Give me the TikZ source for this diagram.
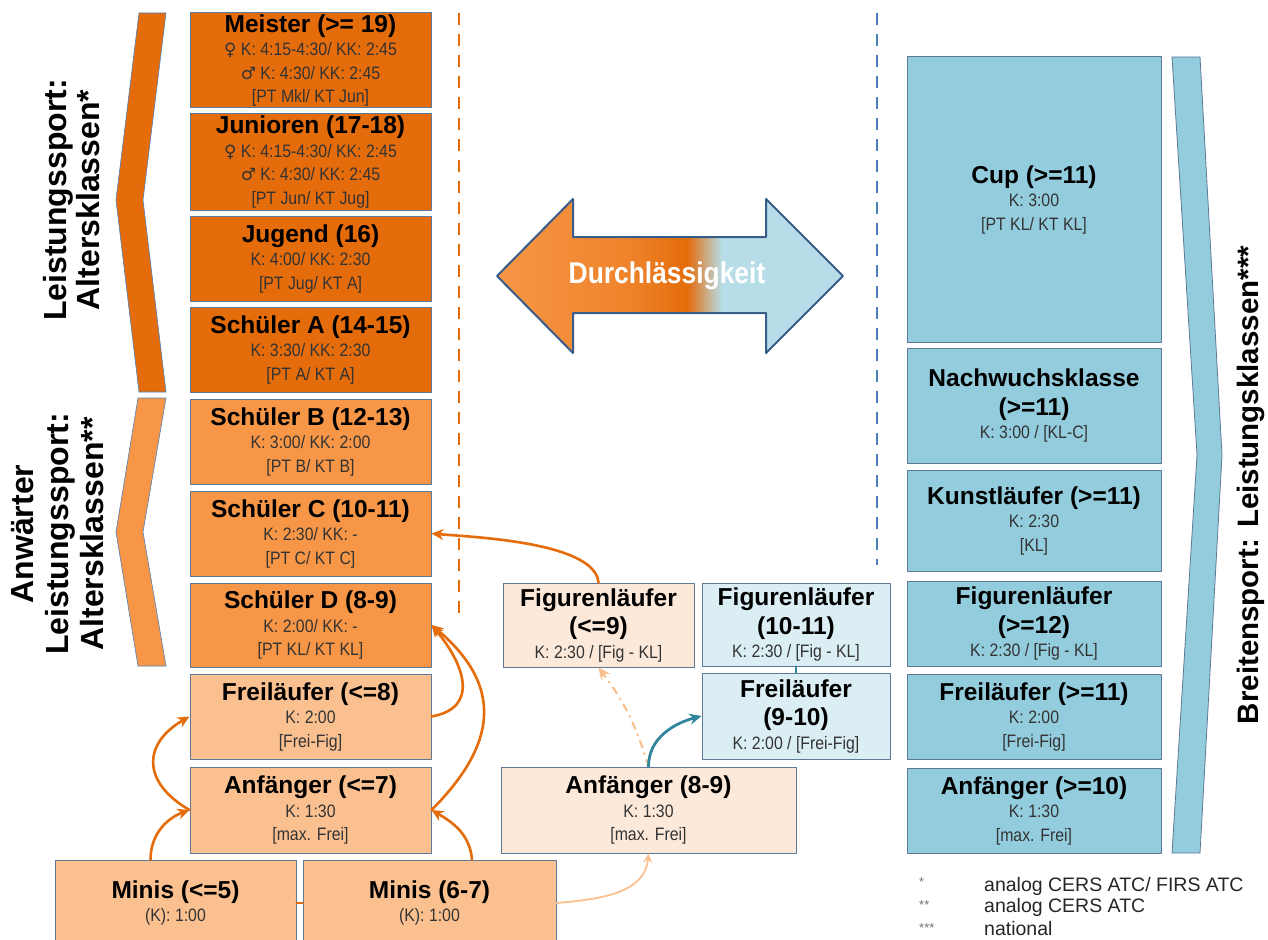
\documentclass[tikz,border=0pt]{standalone}
\usepackage{fontspec}
\setmainfont{Liberation Sans}
\newfontfamily\narrowfont[FakeStretch=0.88]{Liberation Sans}
\newfontfamily\symfont{DejaVu Sans}
\usetikzlibrary{arrows.meta}

\definecolor{orDark}{HTML}{E46C0A}
\definecolor{orMid}{HTML}{F79646}
\definecolor{orLight}{HTML}{FAC090}
\definecolor{orPale}{HTML}{FDE9D9}
\definecolor{blPale}{HTML}{DBEEF4}
\definecolor{blMid}{HTML}{93CDDD}
\definecolor{blArrow}{HTML}{B7DEE8}
\definecolor{boxline}{HTML}{5E7898}
\definecolor{chevline}{HTML}{4F81BD}
\definecolor{arrowline}{HTML}{385D8A}
\definecolor{tealArrow}{HTML}{31859C}
\definecolor{dashBlue}{HTML}{4A7EBB}
\colorlet{orMix}{orMid!55!orDark}

\pgfdeclarehorizontalshading{durchshade}{100bp}{color(0bp)=(orMid); color(25bp)=(orMid); color(44bp)=(orMix); color(52.5bp)=(orDark); color(57.5bp)=(blArrow); color(75bp)=(blArrow); color(100bp)=(blArrow)}

\newcommand{\sml}{\narrowfont\fontsize{18}{23.5}\selectfont}
\newcommand{\ttl}{\normalfont\bfseries\fontsize{24.5}{27}\selectfont\color{black}}
\newcommand{\fem}{{\symfont\fontsize{17}{20}\selectfont ♀}}
\newcommand{\mal}{{\symfont\fontsize{17}{20}\selectfont ♂}}

\begin{document}
\begin{tikzpicture}[line cap=round,line join=round,>={Stealth[length=12pt,width=11pt]},x=1pt,y=-1pt,
  box/.style={draw=boxline,line width=1pt,inner sep=0pt,align=center,text=black!80,font=\sml},
  lbox/.style={box,minimum width=241},
  rbox/.style={box,fill=blMid,minimum width=254},
  side/.style={align=center,inner sep=0pt,text=black,rotate=90},
  flow/.style={->,line width=2.6pt,draw=orDark},
  sep/.style={line width=2.8pt,line cap=butt,dash pattern=on 12pt off 9pt},
  note/.style={anchor=west,inner sep=0pt,font=\fontsize{19.5}{21}\selectfont,text=black!85},
  star/.style={anchor=west,inner sep=0pt,font=\fontsize{13}{14}\selectfont,text=black!55}]
\useasboundingbox (0,0) rectangle (1268,939);
\clip (0,0) rectangle (1268,939);
\fill[white] (0,0) rectangle (1268,939);

% Chevrons links und rechts
\filldraw[fill=orDark,draw=chevline,line width=0.6pt] (139,13) -- (166,13) -- (143,200) -- (166,392) -- (139,392) -- (116,200) -- cycle;
\filldraw[fill=orMid,draw=chevline,line width=0.6pt] (138,398) -- (166,398) -- (143,532) -- (166,666) -- (138,666) -- (116,532) -- cycle;
\filldraw[fill=blMid,draw=boxline,line width=0.8pt] (1172,57) -- (1200,57) -- (1222,455) -- (1200,853) -- (1172,853) -- (1197,455) -- cycle;

\node[side,font=\bfseries\fontsize{32}{33}\selectfont] (leistung) at (72,200) {Leistungssport:\\Altersklassen*};
\node[side,font=\bfseries\fontsize{32}{35}\selectfont] (anwaerter) at (58,534) {Anwärter\\Leistungssport:\\Altersklassen**};
\node[side,font=\bfseries\fontsize{29.5}{30}\selectfont] (breiten) at (1251,485) {Breitensport: Leistungsklassen***};

% Trennlinien
\draw[sep,orDark] (459,13) -- (459,615);
\draw[sep,dashBlue] (877,13) -- (877,565);

% Durchlaessigkeit
\shadedraw[shading=durchshade,draw=arrowline,line width=2pt] (497,276) -- (573,199) -- (573,237) -- (766,237) -- (766,199) -- (843,276) -- (766,353) -- (766,313) -- (573,313) -- (573,353) -- cycle;
\node[text=white,font=\narrowfont\bfseries\fontsize{30}{32}\selectfont] (durch) at (667,276) {Durchlässigkeit};

% Leistungssport
\node[lbox,fill=orDark,minimum height=95] (meister) at (310.5,60.5) {\ttl Meister (>= 19)\\\fem{} K: 4:15-4:30/ KK: 2:45\\\mal{} K: 4:30/ KK: 2:45\\{}[PT Mkl/ KT Jun]};
\node[lbox,fill=orDark,minimum height=96] (junioren) at (310.5,162) {\ttl Junioren (17-18)\\\fem{} K: 4:15-4:30/ KK: 2:45\\\mal{} K: 4:30/ KK: 2:45\\{}[PT Jun/ KT Jug]};
\node[lbox,fill=orDark,minimum height=85] (jugend) at (310.5,258.5) {\ttl Jugend (16)\\K: 4:00/ KK: 2:30\\{}[PT Jug/ KT A]};
\node[lbox,fill=orDark,minimum height=85] (schuelerA) at (310.5,349.5) {\ttl Schüler A (14-15)\\K: 3:30/ KK: 2:30\\{}[PT A/ KT A]};
\node[lbox,fill=orMid,minimum height=85] (schuelerB) at (310.5,441.5) {\ttl Schüler B (12-13)\\K: 3:00/ KK: 2:00\\{}[PT B/ KT B]};
\node[lbox,fill=orMid,minimum height=85] (schuelerC) at (310.5,533.5) {\ttl Schüler C (10-11)\\K: 2:30/ KK: -\\{}[PT C/ KT C]};
\node[lbox,fill=orMid,minimum height=84] (schuelerD) at (310.5,625) {\ttl Schüler D (8-9)\\K: 2:00/ KK: -\\{}[PT KL/ KT KL]};
\node[lbox,fill=orLight,minimum height=85] (frei8) at (310.5,716.5) {\ttl Freiläufer (<=8)\\K: 2:00\\{}[Frei-Fig]};
\node[lbox,fill=orLight,minimum height=86] (anf7) at (310.5,810) {\ttl Anfänger (<=7)\\K: 1:30\\{}[max. Frei]};
\node[box,fill=orLight,minimum width=241,minimum height=86] (minis5) at (175.5,903) {\ttl Minis (<=5)\\(K): 1:00};
\node[box,fill=orLight,minimum width=253,minimum height=86] (minis67) at (429.5,903) {\ttl Minis (6-7)\\(K): 1:00};

% Mitte
\node[box,fill=orPale,minimum width=191,minimum height=84] (figur9) at (598.5,625) {\ttl Figurenläufer\\[5pt]\ttl (<=9)\\K: 2:30 / [Fig - KL]};
\node[box,fill=blPale,minimum width=188,minimum height=83] (figur1011) at (796,624.5) {\ttl Figurenläufer\\[5pt]\ttl (10-11)\\K: 2:30 / [Fig - KL]};
\node[box,fill=blPale,minimum width=188,minimum height=86] (frei910) at (796,716) {\ttl Freiläufer\\[5pt]\ttl (9-10)\\K: 2:00 / [Frei-Fig]};
\node[box,fill=orPale,minimum width=295,minimum height=86] (anf89) at (648.5,810) {\ttl Anfänger (8-9)\\K: 1:30\\{}[max. Frei]};

% Breitensport
\node[rbox,minimum height=285] (cup) at (1034,199.5) {\ttl Cup (>=11)\\K: 3:00\\{}[PT KL/ KT KL]};
\node[rbox,minimum height=115] (nachwuchs) at (1034,405.5) {\ttl Nachwuchsklasse\\[5pt]\ttl (>=11)\\K: 3:00 / [KL-C]};
\node[rbox,minimum height=101] (kunst) at (1034,520.5) {\ttl Kunstläufer (>=11)\\K: 2:30\\{}[KL]};
\node[rbox,minimum height=85] (figur12) at (1034,623.5) {\ttl Figurenläufer\\[5pt]\ttl (>=12)\\K: 2:30 / [Fig - KL]};
\node[rbox,minimum height=85] (frei11) at (1034,716.5) {\ttl Freiläufer (>=11)\\K: 2:00\\{}[Frei-Fig]};
\node[rbox,minimum height=85] (anf10) at (1034,810.5) {\ttl Anfänger (>=10)\\K: 1:30\\{}[max. Frei]};

% Uebergaenge
\draw[line width=2.4pt,orDark] (minis5.east) -- (minis67.west);
\draw[flow] ([xshift=-25pt]minis5.north) to[out=90,in=200] (anf7.west);
\draw[flow] (anf7.west) to[out=150,in=210,looseness=1.5] (frei8.west);
\draw[flow] ([xshift=42.5pt]minis67.north) to[out=95,in=-30] (anf7.east);
\draw[flow] (anf7.east) to[out=45,in=-40,looseness=1.3] (schuelerD.east);
\draw[flow] (frei8.east) to[out=10,in=-50,looseness=1.4] (schuelerD.east);
\draw[flow] (figur9.north) to[out=95,in=-5,looseness=0.6] (schuelerC.east);
\draw[->,line width=1.8pt,draw=orLight,>={Stealth[length=9pt,width=9pt]}] (minis67.east) to[out=5,in=-95] (anf89.south);
\draw[->,line width=2.2pt,draw=orLight,dash pattern=on 7pt off 6pt on 1pt off 6pt] (anf89.north) to[bend right=10] (figur9.south);
\draw[->,line width=2.8pt,draw=tealArrow] (anf89.north) to[out=90,in=195] (frei910.west);
\draw[line width=2.4pt,draw=tealArrow] (frei910.north) -- (figur1011.south);

% Fussnoten
\node[star] (st1) at (919,882) {*};
\node[star] (st2) at (919,905) {**};
\node[star] (st3) at (919,928) {***};
\node[note] (fn1) at (984,886) {analog CERS ATC/ FIRS ATC};
\node[note] (fn2) at (984,907) {analog CERS ATC};
\node[note] (fn3) at (984,929) {national};
\end{tikzpicture}
\end{document}
